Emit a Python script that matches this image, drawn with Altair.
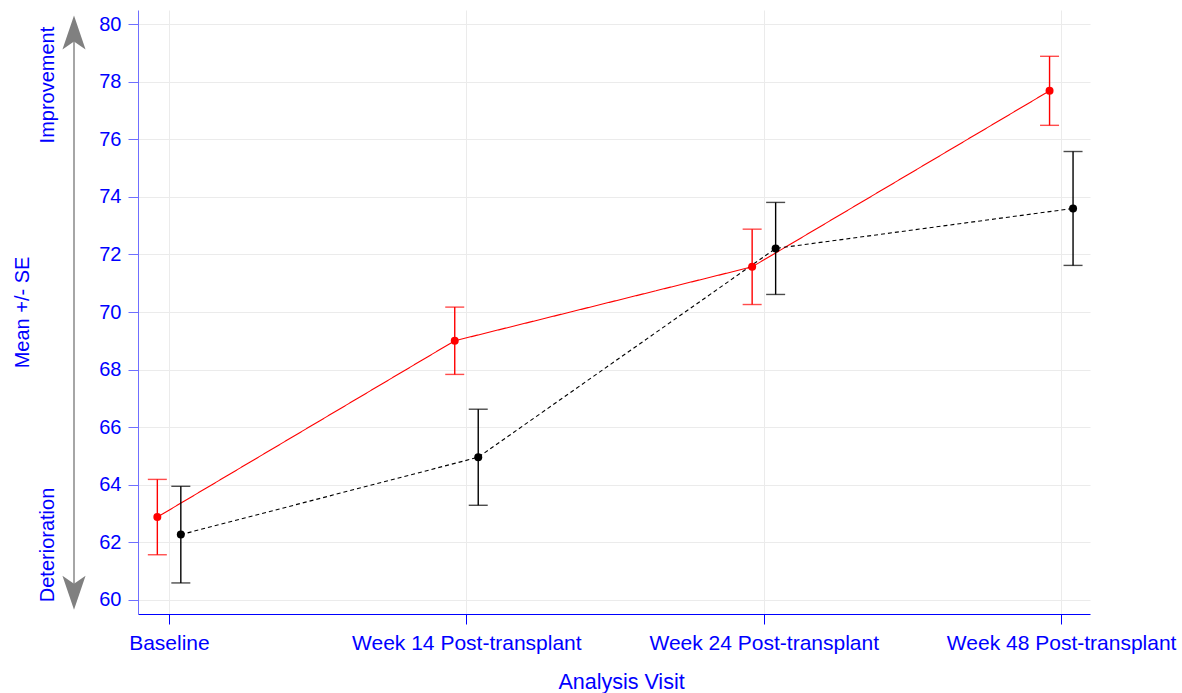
import altair as alt
import pandas as pd

# Visits on the x axis
visits = ["Baseline", "Week 14 Post-transplant", "Week 24 Post-transplant", "Week 48 Post-transplant"]

# Mean and standard error per visit, two treatment arms
arm_a_mean = [62.87, 69.00, 71.57, 77.69]
arm_a_se = [1.31, 1.17, 1.31, 1.20]
arm_b_mean = [62.26, 64.95, 72.21, 73.60]
arm_b_se = [1.68, 1.67, 1.60, 1.98]

arms = ["Arm A", "Arm B"]
arm_colors = ["#ff0000", "#000000"]
arm_dodge = [-0.039, 0.040]

y_ticks = list(range(60, 81, 2))

BLUE = "#0000ff"
FONT = "Liberation Sans"

rows = []
for arm, means, ses, dodge in zip(arms, [arm_a_mean, arm_b_mean], [arm_a_se, arm_b_se], arm_dodge):
    for i, (m, s) in enumerate(zip(means, ses)):
        rows.append({"arm": arm, "visit": visits[i], "x": i + dodge,
                     "mean": m, "lo": m - s, "hi": m + s})
df = pd.DataFrame(rows)

label_expr = "[" + ",".join("'" + v + "'" for v in visits) + "][datum.value]"

x_enc = alt.X(
    "x:Q",
    scale=alt.Scale(domain=[-0.104, 3.097], nice=False, zero=False),
    axis=alt.Axis(
        values=[0, 1, 2, 3], labelExpr=label_expr, title="Analysis Visit",
        grid=True, gridColor="#ebebeb", domainColor=BLUE, tickColor=BLUE,
        tickSize=10, labelPadding=8, labelColor=BLUE, labelFontSize=21,
        labelFont=FONT, labelOverlap=False, labelBound=False, labelFlush=False,
        labelLimit=0,
        titleColor=BLUE, titleFontSize=21.5, titleFont=FONT, titleFontWeight="normal",
        titleX=483, titleY=74, titleBaseline="alphabetic",
    ),
)
y_scale = alt.Scale(domain=[59.5, 80.5], nice=False, zero=False)
y_enc = alt.Y(
    "mean:Q", scale=y_scale,
    axis=alt.Axis(
        values=y_ticks, title="Mean +/- SE", grid=True, gridColor="#ebebeb",
        domainColor="#6f6fff", tickColor="#6f6fff", tickSize=10, labelPadding=7,
        labelColor=BLUE, labelFontSize=20, labelFont=FONT,
        titleColor=BLUE, titleFontSize=20, titleFont=FONT, titleFontWeight="normal",
        titleAngle=270, titleX=-116, titleY=302, titleAlign="center",
        titleBaseline="middle",
    ),
)
color = alt.Color("arm:N", scale=alt.Scale(domain=arms, range=arm_colors), legend=None)
dash = alt.StrokeDash("arm:N", scale=alt.Scale(domain=arms, range=[[1, 0], [4, 3]]), legend=None)

base = alt.Chart(df)

bars = base.mark_rule(strokeWidth=1.4).encode(
    x=x_enc, y=alt.Y("lo:Q", scale=y_scale), y2="hi:Q", color=color
)
cap_lo = base.mark_tick(orient="horizontal", size=19, thickness=1.4).encode(
    x="x:Q", y=alt.Y("lo:Q", scale=y_scale), color=color
)
cap_hi = base.mark_tick(orient="horizontal", size=19, thickness=1.4).encode(
    x="x:Q", y=alt.Y("hi:Q", scale=y_scale), color=color
)
lines = base.mark_line(strokeWidth=1.1).encode(
    x="x:Q", y=y_enc, color=color, strokeDash=dash, detail="arm:N"
)
points = base.mark_circle(size=64, opacity=1).encode(
    x="x:Q", y="mean:Q", color=color
)

# Direction arrow to the left of the value axis
one = pd.DataFrame({"a": [0]})
arrow_line = alt.Chart(one).mark_rule(
    color="#888888", strokeWidth=1.5
).encode(x=alt.value(-64), y=alt.datum(79.9), y2=alt.datum(60.1))

up_head = alt.Chart(one).mark_point(
    shape="M0,-1L0.68,1L0,0.53L-0.68,1Z", filled=True, color="#808080",
    opacity=1, size=1156, strokeWidth=0
).encode(x=alt.value(-64), y=alt.datum(79.72))

down_head = alt.Chart(one).mark_point(
    shape="M0,1L0.68,-1L0,-0.53L-0.68,-1Z", filled=True, color="#808080",
    opacity=1, size=1156, strokeWidth=0
).encode(x=alt.value(-64), y=alt.datum(60.24))

improve = alt.Chart(one).mark_text(
    text="Improvement", angle=270, fontSize=20, font=FONT, color=BLUE,
    align="center", baseline="middle"
).encode(x=alt.value(-90), y=alt.datum(77.89))

deteriorate = alt.Chart(one).mark_text(
    text="Deterioration", angle=270, fontSize=20, font=FONT, color=BLUE,
    align="center", baseline="middle"
).encode(x=alt.value(-90), y=alt.datum(61.9))

chart = alt.layer(
    lines, bars, cap_lo, cap_hi, points,
    arrow_line, up_head, down_head, improve, deteriorate
).properties(
    width=952, height=604,
    background="white",
    autosize=alt.AutoSizeParams(type="none"),
    padding={"left": 138, "top": 10, "right": 92, "bottom": 79},
).configure_view(stroke=None)

chart.save("out.html", embed_options={"renderer": "svg", "actions": False})
